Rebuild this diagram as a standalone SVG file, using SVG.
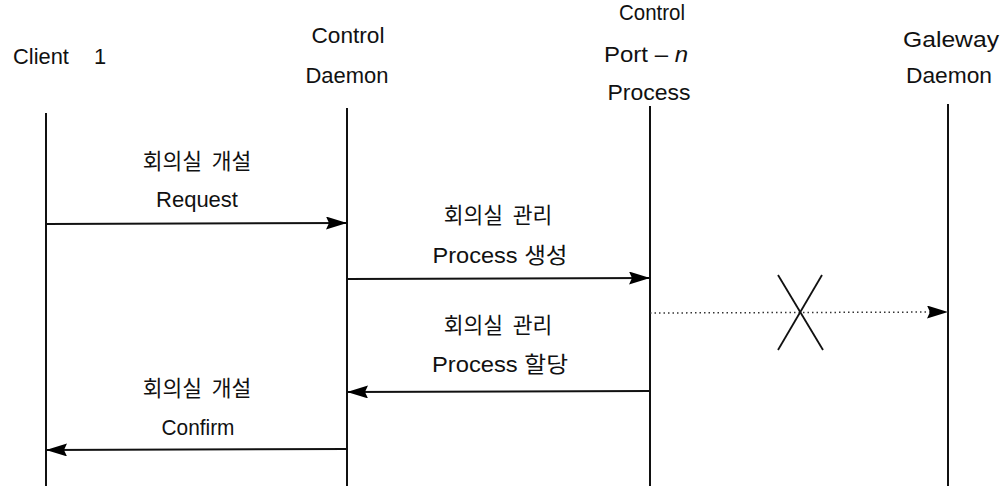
<svg xmlns="http://www.w3.org/2000/svg" width="1000" height="486" viewBox="0 0 1000 486">
  <style>
    .t { font-family: "Liberation Sans", "Noto Sans CJK KR", sans-serif; font-size: 22px; fill: #111; text-anchor: middle; }
    .k { font-family: "Noto Sans CJK KR", "Liberation Sans", sans-serif; font-size: 21.5px; fill: #111; text-anchor: middle; word-spacing: 5px; }
    .life { stroke: #111; stroke-width: 2; fill: none; }
    .msg { stroke: #111; stroke-width: 2; fill: none; marker-end: url(#head); }
    .dot { stroke: #333; stroke-width: 1.5; stroke-dasharray: 1.5 3; fill: none; marker-end: url(#head); }
    .cross { stroke: #111; stroke-width: 1.8; fill: none; }
  </style>
  <defs>
    <marker id="head" markerUnits="userSpaceOnUse" markerWidth="22" markerHeight="14" refX="21" refY="6.5" orient="auto">
      <path d="M0,0 L21,6.5 L0,13 L3,6.5 z" fill="#000"/>
    </marker>
  </defs>
  <rect width="1000" height="486" fill="#fff"/>

  <!-- participants with their lifelines -->
  <g id="client1">
    <text class="t" x="41" y="64" textLength="68" lengthAdjust="spacingAndGlyphs">Client<tspan x="100">1</tspan></text>
    <line class="life" x1="46" y1="113" x2="46" y2="486"/>
  </g>
  <g id="control-daemon">
    <text class="t" x="348" y="43" textLength="73" lengthAdjust="spacingAndGlyphs">Control</text>
    <text class="t" x="347" y="83" textLength="83" lengthAdjust="spacingAndGlyphs">Daemon</text>
    <line class="life" x1="347" y1="108" x2="347" y2="486"/>
  </g>
  <g id="control-port-process">
    <text class="t" x="652" y="20" textLength="66" lengthAdjust="spacingAndGlyphs">Control</text>
    <text class="t" x="646" y="62" textLength="84" lengthAdjust="spacingAndGlyphs">Port  –  <tspan font-style="italic">n</tspan></text>
    <text class="t" x="649" y="100" textLength="83" lengthAdjust="spacingAndGlyphs">Process</text>
    <line class="life" x1="650" y1="106" x2="650" y2="486"/>
  </g>
  <g id="gateway-daemon">
    <text class="t" x="951" y="47" textLength="96" lengthAdjust="spacingAndGlyphs">Galeway</text>
    <text class="t" x="949" y="83" textLength="86" lengthAdjust="spacingAndGlyphs">Daemon</text>
    <line class="life" x1="948" y1="104" x2="948" y2="486"/>
  </g>

  <!-- messages -->
  <g id="connectors">
    <line class="msg" x1="46" y1="224" x2="347" y2="223"/>
    <line class="msg" x1="347" y1="279" x2="650" y2="278"/>
    <line class="dot" x1="650" y1="313" x2="948" y2="312"/>
    <line class="msg" x1="650" y1="391" x2="347" y2="392"/>
    <line class="msg" x1="347" y1="449" x2="46" y2="450"/>
    <!-- blocked request mark -->
    <line class="cross" x1="778" y1="275" x2="823" y2="350"/>
    <line class="cross" x1="822" y1="275" x2="778" y2="350"/>
  </g>

  <!-- message labels -->
  <g id="labels">
    <text class="k" x="197" y="169">회의실 개설</text>
    <text class="t" x="197" y="207" textLength="82" lengthAdjust="spacingAndGlyphs">Request</text>
    <text class="k" x="498" y="223">회의실 관리</text>
    <text class="t" x="500" y="263" textLength="135" lengthAdjust="spacingAndGlyphs">Process 생성</text>
    <text class="k" x="498" y="333">회의실 관리</text>
    <text class="t" x="500" y="372" textLength="136" lengthAdjust="spacingAndGlyphs">Process 할당</text>
    <text class="k" x="197" y="396">회의실 개설</text>
    <text class="t" x="198" y="435" textLength="73" lengthAdjust="spacingAndGlyphs">Confirm</text>
  </g>
</svg>
